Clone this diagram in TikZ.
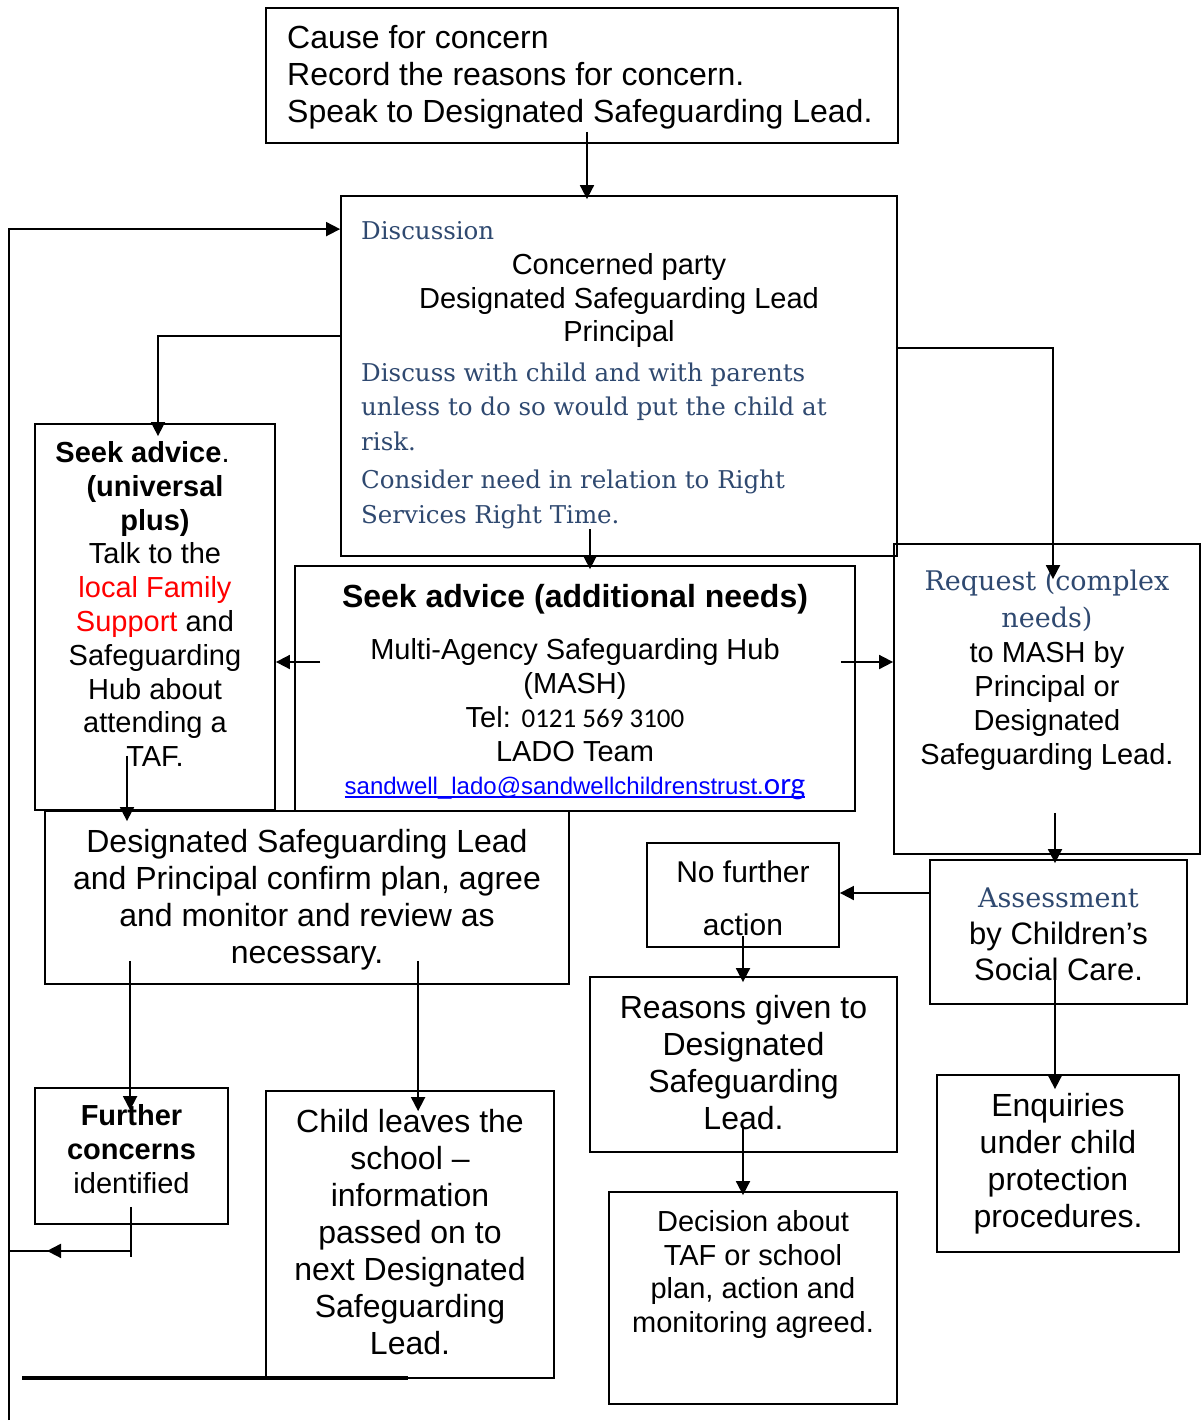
\documentclass[tikz,border=0pt]{standalone}
\usepackage{fontspec}
\setmainfont{Liberation Sans}
\newfontfamily\cambria{DejaVu Serif}
\newfontfamily\calibri{Carlito}
\usetikzlibrary{arrows.meta}

\definecolor{headblue}{RGB}{47,73,112}
\definecolor{linkblue}{RGB}{0,0,255}
\newcommand\fsBig{\fontsize{32}{37}\selectfont}
\newcommand\fsMid{\fontsize{29}{33.8}\selectfont}
\newcommand\fsSer{\cambria\fontsize{24.5}{34.5}\selectfont}
\newcommand\fsSerB{\cambria\fontsize{27}{37}\selectfont}

\begin{document}
\begin{tikzpicture}[x=1pt,y=-1pt,
	box/.style={draw,line width=1.8pt,inner sep=0pt},
	txt/.style={inner sep=0pt,align=center},
	arr/.style={line width=1.8pt,-{Triangle[length=14pt,width=14pt]}},
	conn/.style={line width=1.8pt}]
	\useasboundingbox (0,0) rectangle (1202,1428);
	% boxes
	\node[box,minimum width=632pt,minimum height=135pt] (cause) at (582,75.5) {};
	\node[box,minimum width=556pt,minimum height=360pt] (disc) at (619,376) {};
	\node[box,minimum width=240pt,minimum height=386pt] (univ) at (155,617) {};
	\node[box,minimum width=560pt,minimum height=245pt] (mash) at (575,688.5) {};
	\node[box,minimum width=306pt,minimum height=310pt] (req) at (1047,699) {};
	\node[box,minimum width=524pt,minimum height=173pt] (plan) at (307,897.5) {};
	\node[box,minimum width=192pt,minimum height=104pt] (nfa) at (743,895) {};
	\node[box,minimum width=257pt,minimum height=144pt] (assess) at (1058.5,932) {};
	\node[box,minimum width=307pt,minimum height=175pt] (reasons) at (743.5,1064.5) {};
	\node[box,minimum width=288pt,minimum height=212pt] (decision) at (753,1298) {};
	\node[box,minimum width=193pt,minimum height=136pt] (further) at (131.5,1156) {};
	\node[box,minimum width=288pt,minimum height=287pt] (leaves) at (410,1234.5) {};
	\node[box,minimum width=242pt,minimum height=177pt] (enq) at (1058,1163.5) {};

	% texts
	\node[txt,anchor=west,align=left,font=\fsBig] (causetxt) at (287,77.5) {Cause for concern\\Record the reasons for concern.\\Speak to Designated Safeguarding Lead.};
	\node[txt,anchor=west,font=\fsSer,text=headblue] (dischead) at (361,231) {Discussion};
	\node[txt,font=\fsMid] (discwho) at (619,300.5) {Concerned party\\Designated Safeguarding Lead\\Principal};
	\node[txt,anchor=west,align=left,font=\fsSer,text=headblue] (disctalk) at (361,406.5) {Discuss with child and with parents\\unless to do so would put the child at\\risk.};
	\node[txt,anchor=west,align=left,font=\fsSer,text=headblue] (discneed) at (361,499.5) {Consider need in relation to Right\\Services Right Time.};
	\node[txt,font=\fsMid] (univtxt) at (155,604) {\textbf{Seek advice}.\hspace*{25pt}\\\textbf{(universal}\\\textbf{plus)}\\Talk to the\\\textcolor{red}{local Family}\\\textcolor{red}{Support} and\\Safeguarding\\Hub about\\attending a\\TAF.};
	\node[txt,font=\fsBig\bfseries] (mashhead) at (575,599) {Seek advice (additional needs)};
	\node[txt,font=\fsMid] (mashtxt) at (575,700) {Multi-Agency Safeguarding Hub\\(MASH)\\Tel: {\calibri\fontsize{27}{30}\selectfont 0121 569 3100}\\LADO Team};
	\node[txt,font=\fontsize{24}{28}\selectfont,text=linkblue] (mashmail) at (575,788) {sandwell\_lado@sandwellchildrenstrust.{\calibri\fontsize{31}{34}\selectfont org}};
	\draw[linkblue,line width=1.3pt] ([yshift=-3pt]mashmail.base west) -- ([yshift=-3pt]mashmail.base east);
	\node[txt,font=\fsSerB,text=headblue] (reqhead) at (1047,600.5) {Request (complex\\needs)};
	\node[txt,font=\fsMid] (reqtxt) at (1047,706) {to MASH by\\Principal or\\Designated\\Safeguarding Lead.};
	\node[txt,font=\fsBig] (plantxt) at (307,900) {Designated Safeguarding Lead\\and Principal confirm plan, agree\\and monitor and review as\\necessary.};
	\node[txt,font=\fontsize{30}{53}\selectfont] (nfatxt) at (743,898.5) {No further\\action};
	\node[txt,font=\fsSerB,text=headblue] (assesshead) at (1058.5,898) {Assessment};
	\node[txt,font=\fontsize{31}{36}\selectfont] (assesstxt) at (1058.5,951) {by Children’s\\Social Care.};
	\node[txt,font=\fsBig] (reasonstxt) at (743.5,1062.5) {Reasons given to\\Designated\\Safeguarding\\Lead.};
	\node[txt,font=\fontsize{29}{33.7}\selectfont] (decisiontxt) at (753,1274.5) {Decision about\\TAF or school\\plan, action and\\monitoring agreed.};
	\node[txt,font=\fsMid] (furthertxt) at (131.5,1149) {\textbf{Further}\\\textbf{concerns}\\identified};
	\node[txt,font=\fsBig] (leavestxt) at (410,1232.5) {Child leaves the\\school –\\information\\passed on to\\next Designated\\Safeguarding\\Lead.};
	\node[txt,font=\fsBig] (enqtxt) at (1058,1164) {Enquiries\\under child\\protection\\procedures.};

	% connectors
	\coordinate (c1) at ([xshift=5pt,yshift=12pt]cause.south);
	\draw[arr] (c1) -- ([yshift=-4pt]c1 |- disc.north);
	\coordinate (loopbot) at (9,1420);
	\draw[arr] (loopbot) |- ([yshift=-34pt]disc.north west);
	\draw[arr] ([yshift=-141pt]disc.north west) -| ([xshift=3pt,yshift=-13pt]univ.north);
	\draw[arr] ([xshift=-2pt,yshift=-153pt]disc.north east) -| ([xshift=6pt,yshift=-36pt]req.north);
	\coordinate (d1) at ([xshift=-29pt,yshift=28pt]disc.south);
	\draw[arr] (d1) -- ([yshift=-4pt]d1 |- mash.north);
	\coordinate (m1) at ([xshift=26pt,yshift=26.5pt]mash.west);
	\draw[arr] (m1) -- (m1 -| univ.east);
	\coordinate (m2) at ([xshift=-15pt,yshift=26.5pt]mash.east);
	\draw[arr] (m2) -- (m2 -| req.west);
	\coordinate (u1) at ([xshift=-28pt,yshift=55pt]univ.south);
	\draw[arr] (u1) -- ([yshift=-11pt]u1 |- plan.north);
	\coordinate (p1) at ([xshift=86pt,yshift=24pt]plan.south west);
	\coordinate (p2) at ([xshift=374pt,yshift=24pt]plan.south west);
	\draw[arr] (p1) -- ([yshift=-23pt]p1 |- further.north);
	\draw[arr] (p2) -- ([yshift=-21pt]p2 |- leaves.north);
	\coordinate (r1) at ([xshift=8pt,yshift=42pt]req.south);
	\draw[arr] (r1) -- ([yshift=-4pt]r1 |- assess.north);
	\coordinate (a1) at ([yshift=39pt]assess.west);
	\draw[arr] (a1) -- (a1 -| nfa.east);
	\coordinate (a2) at ([xshift=-3.5pt,yshift=39pt]assess.south);
	\draw[arr] (a2) -- ([yshift=-15pt]a2 |- enq.north);
	\coordinate (n1) at ([yshift=12pt]nfa.south);
	\draw[arr] (n1) -- ([yshift=-6pt]n1 |- reasons.north);
	\coordinate (r2) at ([xshift=-0.5pt,yshift=27pt]reasons.south);
	\draw[arr] (r2) -- ([yshift=-4pt]r2 |- decision.north);
	% back to the start
	\coordinate (f1) at ([xshift=-0.5pt,yshift=18pt]further.south);
	\coordinate (f2) at ([xshift=-0.5pt,yshift=-26pt]further.south);
	\draw[conn] (f1) -- ([yshift=-6pt]f2);
	\draw[arr] (f2) -- ([xshift=38pt]f2 -| loopbot);
	\draw[conn] (f2) -- (f2 -| loopbot);
	\coordinate (baseL) at (22,1378);
	\coordinate (baseR) at (408,1378);
	\draw[line width=3.5pt] (baseL) -- (baseR);
\end{tikzpicture}
\end{document}
